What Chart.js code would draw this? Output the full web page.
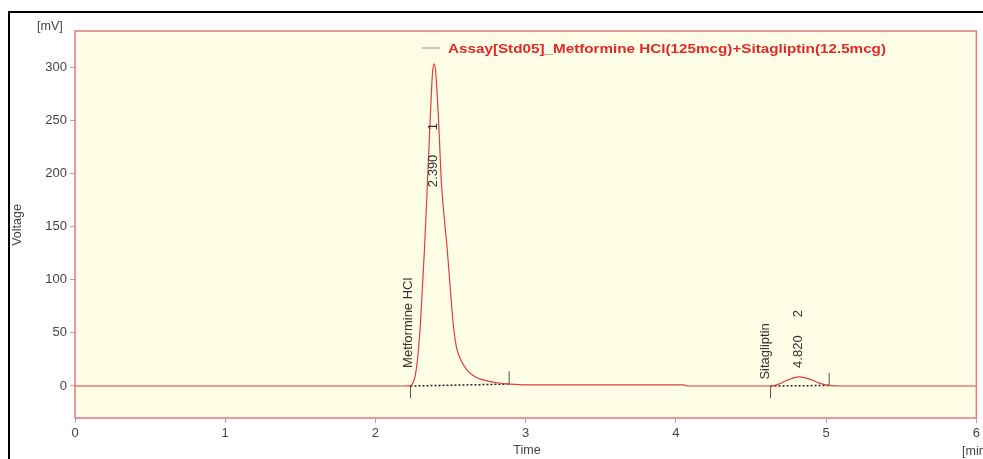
<!DOCTYPE html>
<html>
<head>
<meta charset="utf-8">
<script src="https://cdn.jsdelivr.net/npm/chart.js@4.4.1/dist/chart.umd.min.js"></script>
<style>
html,body{margin:0;padding:0;background:#fff;}
#wrap{width:983px;height:459px;position:relative;}
</style>
</head>
<body>
<div id="wrap"><canvas id="c" width="983" height="459"></canvas></div>
<script>
// ---- data ----
const timeMin = [0, 2.20, 2.233, 2.25, 2.265, 2.28, 2.30, 2.326, 2.346, 2.365, 2.38, 2.39, 2.40, 2.419, 2.439, 2.46, 2.478, 2.50, 2.52, 2.54, 2.57, 2.61, 2.66, 2.71, 2.76, 2.82, 2.89, 3.00, 4.05, 4.08, 4.63, 4.68, 4.75, 4.82, 4.88, 4.95, 5.02, 5.10, 6.0];
const signalMV = [0, 0, 0.3, 3, 10, 25, 60, 128, 191, 253, 295, 303, 297, 253, 191, 155, 128, 88, 55, 36, 24, 15, 9, 6, 4.3, 2.8, 1.8, 1, 1, 0, 0, 1.5, 6, 8.5, 7, 3, 0.5, 0, 0];
const peakNames = ["Metformine HCl", "Sitagliptin"];
const peakRT = ["2.390", "4.820"];
const peakNo = ["1", "2"];
const peakStart = [2.233, 4.63];
const peakEnd = [2.89, 5.02];
const baseStartMV = [0, 0];
const baseEndMV = [1.8, 0.5];
const yTicks = [0, 50, 100, 150, 200, 250, 300];
const xTicks = [0, 1, 2, 3, 4, 5, 6];
const seriesName = "Assay[Std05]_Metformine HCl(125mcg)+Sitagliptin(12.5mcg)";

const trace = timeMin.map((t, i) => ({x: t, y: signalMV[i]}));
const datasets = [{
  label: seriesName, data: trace, borderColor: '#e23c3c', borderWidth: 1.2,
  pointRadius: 0, cubicInterpolationMode: 'monotone', fill: false
}];
for (let k = 0; k < peakStart.length; k++) {
  datasets.push({
    data: [{x: peakStart[k], y: baseStartMV[k]}, {x: peakEnd[k], y: baseEndMV[k]}],
    borderColor: '#222', borderWidth: 1.5, borderDash: [2, 2], pointRadius: 0
  });
  datasets.push({
    data: [{x: peakStart[k], y: baseStartMV[k] - 11.3}, {x: peakStart[k], y: baseStartMV[k]}],
    borderColor: '#555', borderWidth: 1, pointRadius: 0
  });
  datasets.push({
    data: [{x: peakEnd[k], y: baseEndMV[k]}, {x: peakEnd[k], y: baseEndMV[k] + 12}],
    borderColor: '#555', borderWidth: 1, pointRadius: 0
  });
}

const FONT = '"Liberation Sans", Arial, sans-serif';
const TXT = '#444';

const decor = {
  id: 'decor',
  beforeDraw(chart) {
    const ctx = chart.ctx, a = chart.chartArea;
    ctx.save();
    ctx.fillStyle = '#fff';
    ctx.fillRect(0, 0, chart.width, chart.height);
    ctx.fillStyle = '#fefee7';
    ctx.fillRect(a.left, a.top, a.right - a.left, a.bottom - a.top);
    ctx.restore();
  },
  afterDatasetsDraw(chart) {
    const ctx = chart.ctx, a = chart.chartArea, xs = chart.scales.x, ys = chart.scales.y;
    ctx.save();
    // plot frame
    ctx.strokeStyle = '#e47a7a';
    ctx.lineWidth = 1.5;
    ctx.strokeRect(a.left, a.top, a.right - a.left, a.bottom - a.top);
    // outer black frame
    ctx.strokeStyle = '#000';
    ctx.lineWidth = 2;
    ctx.beginPath();
    ctx.moveTo(9, 470); ctx.lineTo(9, 12); ctx.lineTo(990, 12);
    ctx.stroke();
    // peak annotations (rotated)
    ctx.fillStyle = '#333';
    ctx.font = '13px ' + FONT;
    ctx.textBaseline = 'middle';
    ctx.textAlign = 'left';
    const rot = (txt, px, py) => {
      ctx.save(); ctx.translate(px, py); ctx.rotate(-Math.PI / 2);
      ctx.fillText(txt, 0, 0); ctx.restore();
    };
    const nameT = [2.219, 4.598], nameV = [17, 6];
    const rtT = [2.385, 4.817], rtV = [187, 17];
    const noV = [244, 68];
    for (let k = 0; k < peakNames.length; k++) {
      rot(peakNames[k], xs.getPixelForValue(nameT[k]), ys.getPixelForValue(nameV[k]));
      rot(peakRT[k], xs.getPixelForValue(rtT[k]), ys.getPixelForValue(rtV[k]));
      ctx.save();
      ctx.translate(xs.getPixelForValue(rtT[k]), ys.getPixelForValue(noV[k]));
      ctx.rotate(-Math.PI / 2); ctx.textAlign = 'center';
      ctx.fillText(peakNo[k], 0, 0); ctx.restore();
    }
    // legend
    ctx.strokeStyle = '#e8a0a0'; ctx.lineWidth = 1.5;
    ctx.beginPath(); ctx.moveTo(422, 48); ctx.lineTo(440, 48); ctx.stroke();
    ctx.fillStyle = '#e02828';
    ctx.font = 'bold 13px ' + FONT;
    ctx.textAlign = 'left';
    const w = ctx.measureText(seriesName).width;
    ctx.save();
    ctx.translate(448, 49);
    ctx.scale(438 / w, 1);
    ctx.fillText(seriesName, 0, 0);
    ctx.restore();
    // axis titles and units
    ctx.fillStyle = TXT;
    ctx.font = '12.5px ' + FONT;
    ctx.textAlign = 'left';
    ctx.fillText('[mV]', 37, 27);
    ctx.fillText('[min]', 962, 452);
    ctx.textAlign = 'center';
    ctx.fillText('Time', 527, 451);
    ctx.save(); ctx.translate(18, 225); ctx.rotate(-Math.PI / 2);
    ctx.fillText('Voltage', 0, 0); ctx.restore();
    ctx.restore();
  }
};

new Chart(document.getElementById('c'), {
  type: 'line',
  data: {datasets},
  options: {
    responsive: false, animation: false, devicePixelRatio: 1,
    layout: {padding: {left: 0, top: 31, right: 5, bottom: 0}},
    plugins: {legend: {display: false}, tooltip: {enabled: false}},
    scales: {
      x: {
        type: 'linear', min: 0, max: 6,
        afterBuildTicks: s => { s.ticks = xTicks.map(v => ({value: v})); },
        afterFit: s => { s.height = 41; },
        ticks: {color: TXT, font: {size: 13, family: FONT}, padding: 3, maxRotation: 0},
        grid: {drawOnChartArea: false, drawTicks: true, tickLength: 5, color: '#aaa'},
        border: {display: false}
      },
      y: {
        type: 'linear', min: -30.1, max: 333.9,
        afterBuildTicks: s => { s.ticks = yTicks.map(v => ({value: v})); },
        afterFit: s => { s.width = 75; },
        ticks: {color: TXT, font: {size: 13, family: FONT}, padding: 3},
        grid: {drawOnChartArea: false, drawTicks: true, tickLength: 5, color: '#aaa'},
        border: {display: false}
      }
    }
  },
  plugins: [decor]
});
</script>
</body>
</html>
